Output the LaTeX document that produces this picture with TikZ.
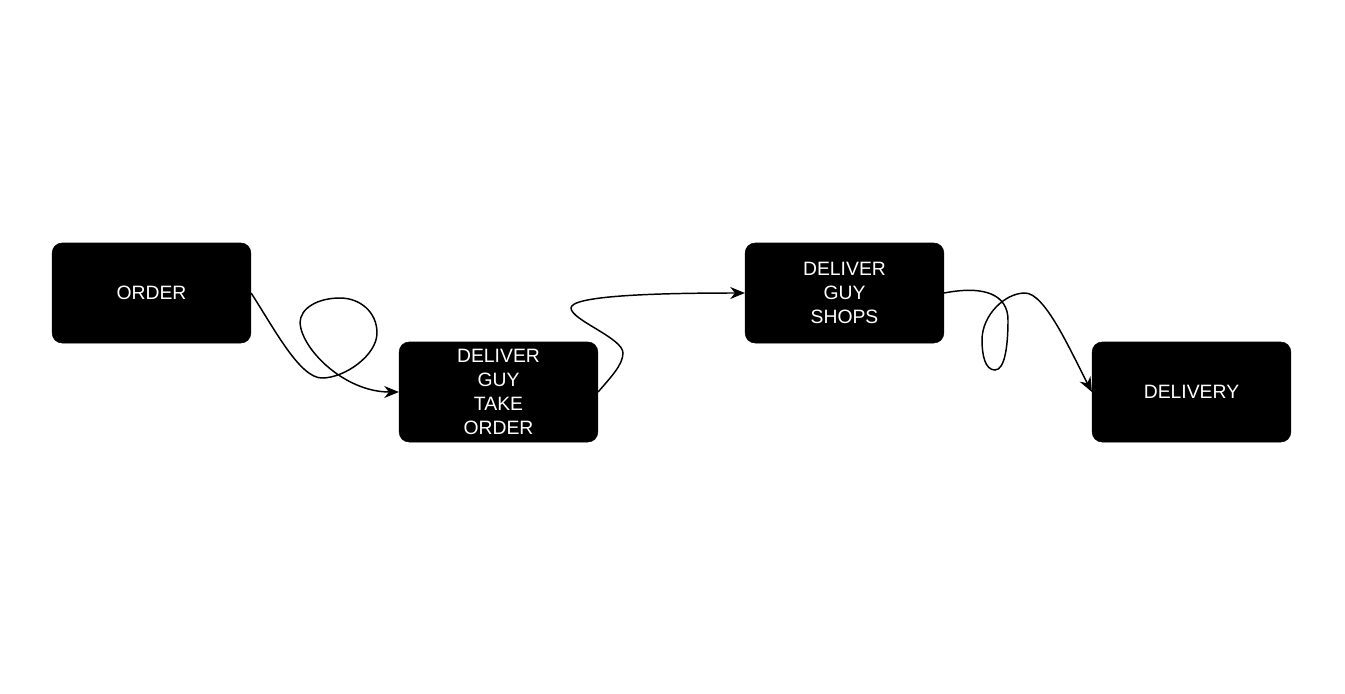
\documentclass[tikz,border=0pt]{standalone}
\usepackage{fontspec}
\setmainfont{Liberation Sans}
\usepackage{tikz}
\usetikzlibrary{arrows.meta}

\begin{document}
\begin{tikzpicture}[x=0.75pt, y=-0.75pt,
	stepbox/.style={fill=black, draw=black, rounded corners=7.5pt, minimum width=149pt, minimum height=75pt,
		text=white, align=center, font=\fontsize{14.5}{17.8}\selectfont},
	link/.style={line width=1.1pt, -{Stealth[length=11pt,width=9pt,inset=3.5pt]}}]
	\useasboundingbox (0,0) rectangle (1345,693);
	\node[stepbox] (order) at (151.5, 293) {ORDER};
	\node[stepbox] (take) at (498.5, 392) {DELIVER\\GUY\\TAKE\\ORDER};
	\node[stepbox] (shops) at (844.5, 293) {DELIVER\\GUY\\SHOPS};
	\node[stepbox] (delivery) at (1191.5, 392) {DELIVERY};
	% looping connectors
	\draw[link] (order.east) .. controls (275, 330) and (300, 378) .. (322, 378)
		.. controls (345, 378) and (377, 355) .. (377, 333)
		.. controls (377, 312) and (360, 298) .. (340, 298)
		.. controls (318, 298) and (300, 308) .. (300, 323)
		.. controls (302, 350) and (345, 392) .. (take.west);
	\draw[link] (take.east) .. controls (610, 378) and (623, 365) .. (623, 353)
		.. controls (623, 338) and (571, 320) .. (571, 308)
		.. controls (571, 296) and (650, 293) .. (shops.west);
	\draw[link] (shops.east) .. controls (985, 285) and (1008, 295) .. (1008, 320)
		.. controls (1008, 345) and (1005, 370) .. (995, 370)
		.. controls (985, 370) and (982, 355) .. (982, 340)
		.. controls (982, 315) and (1005, 293) .. (1025, 293)
		.. controls (1045, 293) and (1070, 350) .. (delivery.west);
\end{tikzpicture}
\end{document}
